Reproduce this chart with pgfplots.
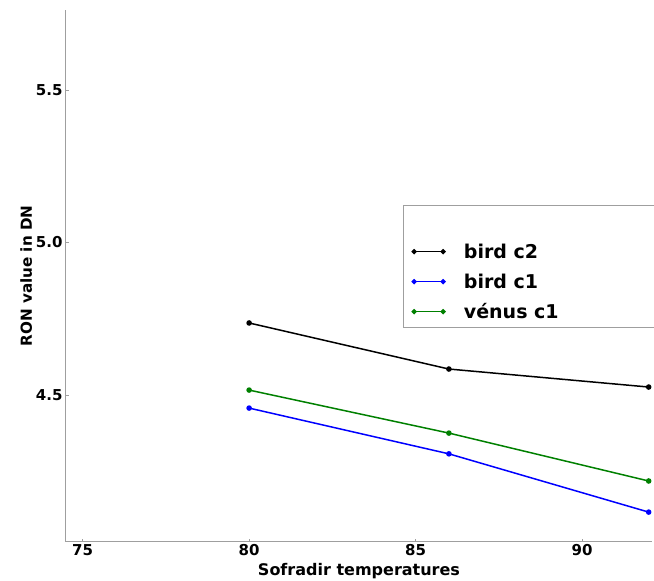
\documentclass[border=0pt]{standalone}
\usepackage{pgfplots}
\pgfplotsset{compat=1.18}
\usepackage{fontspec}
\setmainfont{DejaVu Sans}
\begin{document}
\bfseries
\begin{tikzpicture}
\begin{axis}[
  scale only axis,
  width=586pt, height=532pt,
  xmin=74.5, xmax=92.1,
  ymin=4.018, ymax=5.762,
  axis x line*=bottom, axis y line*=left,
  axis line style={-, draw=gray!75, line width=1pt},
  xtick={75,80,85,90},
  ytick={4.5,5.0,5.5},
  yticklabel style={/pgf/number format/fixed, /pgf/number format/fixed zerofill, /pgf/number format/precision=1},
  /pgf/number format/assume math mode=true,
  tick style={draw=gray!75, line width=0.6pt},
  major tick length=3pt,
  tick align=inside,
  ticklabel style={font=\fontsize{15}{18}\selectfont\bfseries},
  xticklabel style={yshift=1pt},
  label style={font=\fontsize{15.2}{18}\selectfont\bfseries},
  xlabel={Sofradir temperatures},
  ylabel={RON value in DN},
  xlabel style={yshift=-1pt, font=\fontsize{16}{18}\selectfont\bfseries},
  ylabel style={yshift=-3pt},
  legend style={draw=gray!75, line width=0.8pt, at={(rel axis cs:0.575,0.633)}, anchor=north west,
    font=\fontsize{19}{22}\selectfont\bfseries, inner xsep=9pt, inner ysep=1pt,
    nodes={minimum height=30pt, inner sep=0pt}},
  legend cell align=left,
  legend image code/.code={\draw[#1, line width=1.5pt, mark size=1.8pt] plot coordinates {(0pt,0pt) (29pt,0pt)};},
  every axis plot/.append style={line width=1.5pt, mark=*, mark size=2pt},
]
\addlegendimage{empty legend}
\addlegendentry{}
\addplot[black, mark options={fill=black}] coordinates {(80,4.736) (86,4.585) (92,4.526)};
\addlegendentry{\hspace{19pt}\makebox[200pt][l]{bird c2}}
\addplot[blue, mark options={fill=blue}] coordinates {(80,4.457) (86,4.307) (92,4.116)};
\addlegendentry{\hspace{19pt}\makebox[200pt][l]{bird c1}}
\addplot[green!50!black, mark options={fill=green!50!black}] coordinates {(80,4.516) (86,4.375) (92,4.218)};
\addlegendentry{\hspace{19pt}\makebox[200pt][l]{vénus c1}}
\coordinate (sw) at (rel axis cs:0,0);
\coordinate (ne) at (rel axis cs:1,1);
\end{axis}
\pgfresetboundingbox
\useasboundingbox ([xshift=-66pt,yshift=-39pt]sw) rectangle ([xshift=2pt,yshift=10pt]ne);
\end{tikzpicture}
\end{document}
